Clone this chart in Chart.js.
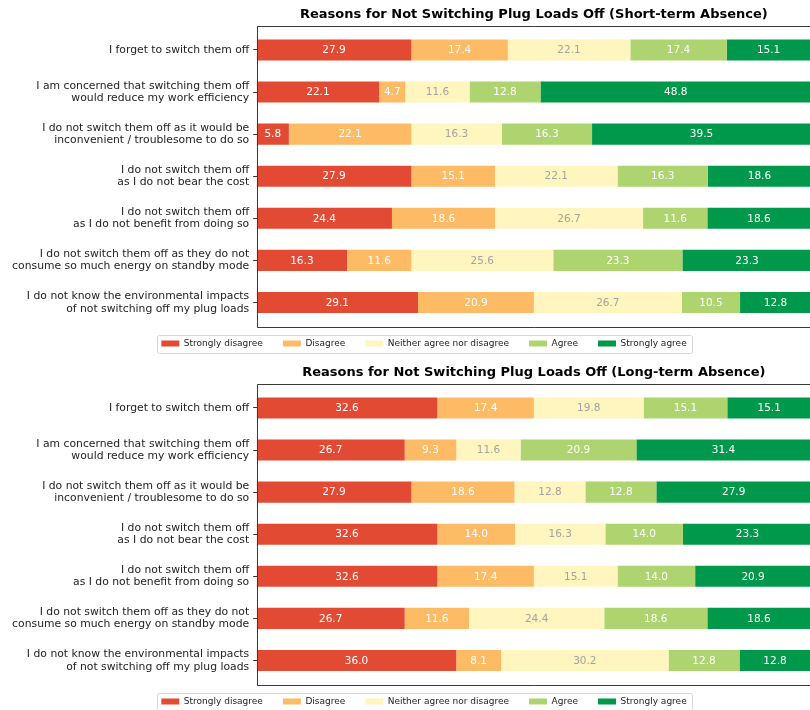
<!DOCTYPE html>
<html>
<head>
<meta charset="utf-8">
<script src="https://cdn.jsdelivr.net/npm/chart.js@4.4.0/dist/chart.umd.min.js"></script>
<style>
  html, body { margin: 0; padding: 0; background: #fff; overflow: hidden; }
  .fig { position: absolute; left: 0; width: 811px; height: 358px; }
</style>
</head>
<body>
<div class="fig" style="top:0"><canvas id="short-term" width="811" height="358"></canvas></div>
<div class="fig" style="top:358px"><canvas id="long-term" width="811" height="358"></canvas></div>
<script>
const reasons = [
    ['I forget to switch them off'],
    ['I am concerned that switching them off', 'would reduce my work efficiency'],
    ['I do not switch them off as it would be', 'inconvenient / troublesome to do so'],
    ['I do not switch them off', 'as I do not bear the cost'],
    ['I do not switch them off', 'as I do not benefit from doing so'],
    ['I do not switch them off as they do not', 'consume so much energy on standby mode'],
    ['I do not know the environmental impacts', 'of not switching off my plug loads']
];

const answers = ['Strongly disagree', 'Disagree', 'Neither agree nor disagree', 'Agree', 'Strongly agree'];
const answerColors = ['#e34a33', '#fdbb66', '#fff5bf', '#aed470', '#00984a'];

// Short-term absence (%)
const shortStronglyDisagree = [27.9, 22.1, 5.8, 27.9, 24.4, 16.3, 29.1];
const shortDisagree = [17.4, 4.7, 22.1, 15.1, 18.6, 11.6, 20.9];
const shortNeutral = [22.1, 11.6, 16.3, 22.1, 26.7, 25.6, 26.7];
const shortAgree = [17.4, 12.8, 16.3, 16.3, 11.6, 23.3, 10.5];
const shortStronglyAgree = [15.1, 48.8, 39.5, 18.6, 18.6, 23.3, 12.8];

// Long-term absence (%)
const longStronglyDisagree = [32.6, 26.7, 27.9, 32.6, 32.6, 26.7, 36.0];
const longDisagree = [17.4, 9.3, 18.6, 14.0, 17.4, 11.6, 8.1];
const longNeutral = [19.8, 11.6, 12.8, 16.3, 15.1, 24.4, 30.2];
const longAgree = [15.1, 20.9, 12.8, 14.0, 14.0, 18.6, 12.8];
const longStronglyAgree = [15.1, 31.4, 27.9, 23.3, 20.9, 18.6, 12.8];

const yMargin = 0.575; // espacio extra arriba y abajo, como matplotlib

Chart.defaults.font.family = '"DejaVu Sans", sans-serif';

// valores dentro de cada tramo
const valueLabels = {
    id: 'valueLabels',
    afterDatasetsDraw(chart) {
        const ctx = chart.ctx;
        ctx.save();
        ctx.font = '10.5px "DejaVu Sans"';
        ctx.textAlign = 'center';
        ctx.textBaseline = 'middle';
        chart.data.datasets.forEach((dataset, i) => {
            chart.getDatasetMeta(i).data.forEach((bar, j) => {
                ctx.fillStyle = i === 2 ? '#a3a3a3' : '#ffffff';
                ctx.fillText(dataset.data[j].x.toFixed(1), (bar.x + bar.base) / 2, bar.y + 0.5);
            });
        });
        ctx.restore();
    }
};

// marco del eje y recuadro de la leyenda
const frame = {
    id: 'frame',
    afterLayout(chart) {
        // la leyenda va centrada en la figura original, algo mas ancha que la ventana
        chart.legend.left = 37;
    },
    afterDraw(chart) {
        const { ctx, chartArea, scales } = chart;
        const left = Math.round(chartArea.left) + 0.5;
        const top = Math.round(chartArea.top) + 0.5;
        const bottom = Math.round(scales.y.getPixelForValue(reasons.length - 1 + yMargin)) + 0.5;
        ctx.save();
        ctx.strokeStyle = '#3a3a3a';
        ctx.lineWidth = 1;
        ctx.beginPath();
        ctx.moveTo(chartArea.right + 2, top);
        ctx.lineTo(left, top);
        ctx.lineTo(left, bottom);
        ctx.lineTo(chartArea.right + 2, bottom);
        ctx.stroke();

        const boxes = chart.legend.legendHitBoxes;
        if (boxes && boxes.length) {
            const x0 = Math.min(...boxes.map(b => b.left)) - 4;
            const x1 = Math.max(...boxes.map(b => b.left + b.width)) + 6;
            const y0 = boxes[0].top - 4;
            const y1 = boxes[0].top + boxes[0].height + 5;
            ctx.strokeStyle = '#d6d6d6';
            ctx.beginPath();
            ctx.roundRect(Math.round(x0) + 0.5, Math.round(y0) + 0.5, Math.round(x1 - x0), Math.round(y1 - y0), 2);
            ctx.stroke();
        }
        ctx.restore();
    }
};

function drawSurvey(canvasId, titleText, series) {
    return new Chart(document.getElementById(canvasId), {
        type: 'bar',
        data: {
            datasets: series.map((values, i) => ({
                label: answers[i],
                data: values.map((v, j) => ({ x: v, y: j })),
                backgroundColor: answerColors[i],
                borderWidth: 0,
                categoryPercentage: 0.5,
                barPercentage: 1
            }))
        },
        options: {
            indexAxis: 'y',
            responsive: false,
            animation: false,
            layout: { padding: 0 },
            scales: {
                x: { type: 'linear', stacked: true, min: 0, max: 100, display: false },
                y: {
                    type: 'linear',
                    stacked: true,
                    reverse: true,
                    offset: false,
                    min: -yMargin,
                    max: 6.392,
                    afterFit: scale => { scale.width = 256.7; },
                    afterBuildTicks: scale => { scale.ticks = reasons.map((_, i) => ({ value: i })); },
                    grid: { offset: false, drawOnChartArea: false, tickLength: 3.5, color: '#333' },
                    border: { display: false },
                    ticks: {
                        callback: value => reasons[value],
                        padding: 4,
                        color: '#222',
                        font: { size: 10.8, lineHeight: 1.16 }
                    }
                }
            },
            plugins: {
                title: {
                    display: true,
                    text: titleText,
                    fullSize: false,
                    color: '#000',
                    font: { size: 13, weight: 'bold', lineHeight: 1.2 },
                    padding: { top: 6.9, bottom: 3.2 }
                },
                legend: {
                    position: 'bottom',
                    labels: { boxWidth: 18, boxHeight: 6, padding: 20, color: '#222', font: { size: 9 } }
                },
                tooltip: { enabled: false }
            }
        },
        plugins: [valueLabels, frame]
    });
}

drawSurvey('short-term', 'Reasons for Not Switching Plug Loads Off (Short-term Absence)',
    [shortStronglyDisagree, shortDisagree, shortNeutral, shortAgree, shortStronglyAgree]);

drawSurvey('long-term', 'Reasons for Not Switching Plug Loads Off (Long-term Absence)',
    [longStronglyDisagree, longDisagree, longNeutral, longAgree, longStronglyAgree]);
</script>
</body>
</html>
